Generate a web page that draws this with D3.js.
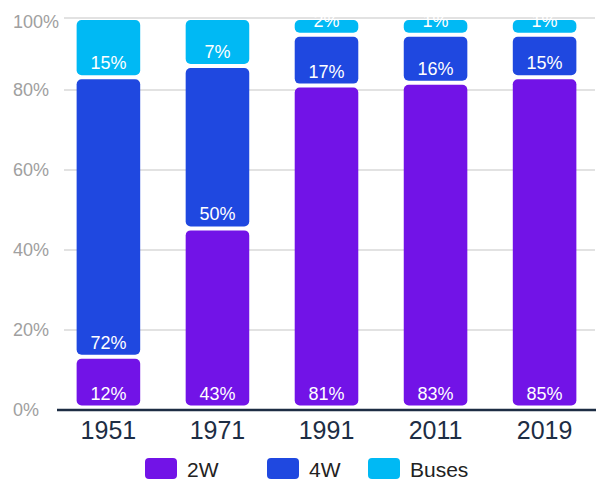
<!DOCTYPE html>
<html>
<head>
<meta charset="utf-8">
<script src="https://cdn.jsdelivr.net/npm/d3@7"></script>
<style>
  html, body { margin: 0; padding: 0; background: #fff; }
  svg { display: block; font-family: "Liberation Sans", Arial, sans-serif; }
</style>
</head>
<body>
<div id="chart"></div>
<script>
// categories and series (drawn shares, % of total)
var years = ['1951', '1971', '1991', '2011', '2019'];
var seriesNames = ['2W', '4W', 'Buses'];
var twoW  = [13.3, 45.4, 81.1, 81.8, 83.2];
var fourW = [69.9, 40.6, 12.7, 12.0, 10.6];
var buses = [14.8, 12.0, 4.2, 4.2, 4.2];
// values printed on the segments
var twoWLabels  = [12, 43, 81, 83, 85];
var fourWLabels = [72, 50, 17, 16, 15];
var busLabels   = [15, 7, 2, 1, 1];
var yTicks = [0, 20, 40, 60, 80, 100];

var colors = ['#7213e7', '#1f48e0', '#00b9f4'];
var width = 613, height = 481;

var rows = years.map(function(y, i) {
  return { year: y, '2W': twoW[i], '4W': fourW[i], 'Buses': buses[i],
           labels: [twoWLabels[i], fourWLabels[i], busLabels[i]] };
});

var svg = d3.select('#chart').append('svg')
  .attr('width', width)
  .attr('height', height);

var x = d3.scaleBand()
  .domain(years)
  .range([57, 596])
  .paddingInner(0.417)
  .paddingOuter(0.18);

var y = d3.scaleLinear()
  .domain([0, 100])
  .range([410, 10]);
var plotTop = 18;

// gridlines + y labels
var grid = svg.append('g');
yTicks.forEach(function(t) {
  var gy = Math.max(y(t), plotTop);
  if (t > 0) {
    grid.append('line')
      .attr('x1', 64).attr('x2', 595)
      .attr('y1', gy).attr('y2', gy)
      .attr('stroke', '#e2e2e2')
      .attr('stroke-width', 2);
  }
  grid.append('text')
    .attr('x', 13)
    .attr('y', Math.max(gy, 22))
    .attr('dy', '0.36em')
    .style('font-size', '18px')
    .style('fill', '#a0a0a0')
    .text(t + '%');
});

var stack = d3.stack().keys(seriesNames);
var layers = stack(rows);

var groups = svg.selectAll('g.layer')
  .data(layers)
  .enter()
  .append('g')
  .attr('class', 'layer')
  .attr('fill', function(d, i) { return colors[i]; });

groups.selectAll('rect')
  .data(function(d) { return d; })
  .enter()
  .append('rect')
  .attr('x', function(d) { return x(d.data.year); })
  .attr('width', x.bandwidth())
  .attr('y', function(d) { return y(d[1]) + 2; })
  .attr('height', function(d) {
    var bottomInset = d[0] === 0 ? 4.5 : 2;
    return y(d[0]) - y(d[1]) - 2 - bottomInset;
  })
  .attr('rx', 5)
  .attr('ry', 5);

groups.each(function(layer, li) {
  d3.select(this).selectAll('text')
    .data(layer)
    .enter()
    .append('text')
    .attr('x', function(d) { return x(d.data.year) + x.bandwidth() / 2; })
    .attr('y', function(d) {
      var bottomInset = d[0] === 0 ? 4.5 : 2;
      return y(d[0]) - bottomInset - 6;
    })
    .style('text-anchor', 'middle')
    .style('font-size', '18px')
    .style('fill', '#ffffff')
    .text(function(d) { return d.data.labels[li] + '%'; });
});

// x axis line + labels
svg.append('line')
  .attr('x1', 57).attr('x2', 596)
  .attr('y1', y(0)).attr('y2', y(0))
  .attr('stroke', '#1d2d44')
  .attr('stroke-width', 2.5);

svg.append('g').selectAll('text')
  .data(years)
  .enter()
  .append('text')
  .attr('x', function(d) { return x(d) + x.bandwidth() / 2; })
  .attr('y', 439)
  .style('text-anchor', 'middle')
  .style('font-size', '25px')
  .style('fill', '#1d2d44')
  .text(function(d) { return d; });

// legend
var legendX = [145, 267, 368];
var legend = svg.append('g');
seriesNames.forEach(function(name, i) {
  legend.append('rect')
    .attr('x', legendX[i]).attr('y', 458)
    .attr('width', 32).attr('height', 21)
    .attr('rx', 4)
    .attr('fill', colors[i]);
  legend.append('text')
    .attr('x', legendX[i] + 42)
    .attr('y', 477)
    .style('font-size', '21px')
    .style('fill', '#222')
    .text(name);
});
</script>
</body>
</html>
